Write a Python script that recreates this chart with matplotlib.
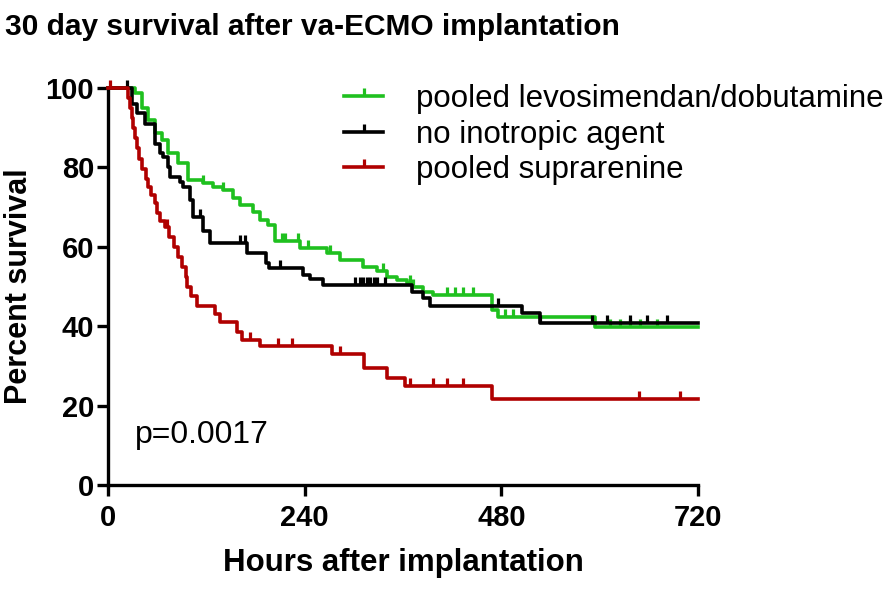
import numpy as np
import matplotlib
matplotlib.use("Agg")
import matplotlib.pyplot as plt
from matplotlib.lines import Line2D

plt.rcParams['font.family'] = ['Liberation Sans', 'DejaVu Sans']

# Kaplan-Meier steps: (hours, percent surviving after the step)
levo_t = [0, 24, 33, 41, 49, 57, 66, 73, 85, 98, 116, 128, 140, 152, 161, 177, 186, 195,
          204, 234, 267, 283, 311, 328, 340, 353, 365, 372, 384, 397, 469, 476, 594, 720]
levo_s = [100, 100, 98.7, 95, 92, 88.7, 87, 83.6, 81, 76.8, 76, 75, 74.3, 72.3, 70.5, 68.8,
          66.8, 65.5, 61.5, 59.7, 58.4, 56.7, 55, 54, 52.4, 51.6, 50.9, 50, 48.6, 47.9, 44,
          42.2, 39.8, 39.8]
levo_cens_t = [116, 140, 212, 216, 232, 244, 271, 336, 369, 372, 414, 424, 433, 446, 485,
               494, 613, 625, 637, 649, 670]

none_t = [0, 24, 29, 35, 45, 57, 64, 67, 73, 76, 88, 92, 100, 104, 116, 125, 170, 193,
          197, 238, 246, 262, 371, 384, 393, 505, 527, 720]
none_s = [100, 100, 96, 93.7, 91, 86, 83.6, 82.6, 80, 77.6, 76.3, 75, 71.8, 67.5, 64, 61,
          58.4, 56, 54.6, 53, 52, 50.4, 48.5, 47, 45, 43.3, 40.8, 40.8]
none_cens_t = [23, 112, 161, 167, 210, 301, 308, 311, 316, 320, 324, 328, 338, 476, 527,
               591, 609, 637, 658, 682]

supra_t = [0, 24, 27, 29, 31, 33, 35, 38, 42, 46, 49, 53, 57, 60, 63, 70, 75, 80, 85, 90,
           95, 97, 101, 108, 130, 137, 158, 163, 185, 273, 312, 340, 362, 469, 720]
supra_s = [100, 97.5, 95, 92.5, 90, 87.5, 85, 82, 79.5, 77, 75, 73, 71, 68.5, 66.5, 65,
           62.5, 60, 57.5, 55, 52.5, 50, 47.5, 45, 43, 41, 38.5, 36.5, 35, 33, 29.5, 27, 25,
           21.7, 21.7]
supra_cens_t = [2.5, 72, 173, 207, 224, 283, 368, 397, 414, 433, 648, 698]

labels = ["pooled levosimendan/dobutamine", "no inotropic agent", "pooled suprarenine"]
colors = ["#1fc01f", "#000000", "#b00000"]

x_ticks = [0, 240, 480, 720]
y_ticks = [0, 20, 40, 60, 80, 100]

# upward-only censor tick
tick_marker = [(0, 0), (0, 1)]


def surv_at(times, surv, t):
    idx = np.searchsorted(times, t, side='right') - 1
    return surv[idx]


fig = plt.figure(figsize=(8.94, 5.92), dpi=100)
ax = fig.add_axes([0.1208, 0.1807, 0.66, 0.6706])

series = [(levo_t, levo_s, levo_cens_t), (none_t, none_s, none_cens_t),
          (supra_t, supra_s, supra_cens_t)]
handles = []
for (t, s, ct), col, lab in zip(series, colors, labels):
    ax.step(t, s, where='post', color=col, lw=2.6, clip_on=False, zorder=3)
    cs = [surv_at(t, s, c) for c in ct]
    ax.plot(ct, cs, ls='none', marker=tick_marker, ms=11, mew=2.3, color=col,
            clip_on=False, zorder=3)
    handles.append(Line2D([0], [0], color=col, lw=2.6, marker=tick_marker, ms=11,
                          mew=2.3, markevery=[0]))

ax.set_xlim(0, 720)
ax.set_ylim(0, 100)
ax.set_xticks(x_ticks)
ax.set_yticks(y_ticks)
for sp in ['top', 'right']:
    ax.spines[sp].set_visible(False)
for sp in ['left', 'bottom']:
    ax.spines[sp].set_linewidth(2.4)
ax.tick_params(axis='both', width=2.4, length=8, labelsize=21)
ax.tick_params(axis='x', pad=6)
ax.tick_params(axis='y', pad=2)
for lbl in ax.get_xticklabels() + ax.get_yticklabels():
    lbl.set_fontweight('bold')

ax.set_xlabel("Hours after implantation", fontsize=22.5, fontweight='bold', labelpad=11)
ax.set_ylabel("Percent survival", fontsize=22, fontweight='bold', labelpad=8)
fig.text(0.006, 0.955, "30 day survival after va-ECMO implantation", fontsize=21.5,
         fontweight='bold', ha='left', va='center')
ax.text(0.045, 0.125, "p=0.0017", transform=ax.transAxes, fontsize=23, ha='left',
        va='center')

ax.legend(handles, labels, loc='upper left', bbox_to_anchor=(0.385, 0.858),
          bbox_transform=fig.transFigure, frameon=False, fontsize=22.5,
          handlelength=1.25, handletextpad=1.05, labelspacing=0.18, borderpad=0,
          borderaxespad=0)

fig.savefig("out.png", dpi=100)
